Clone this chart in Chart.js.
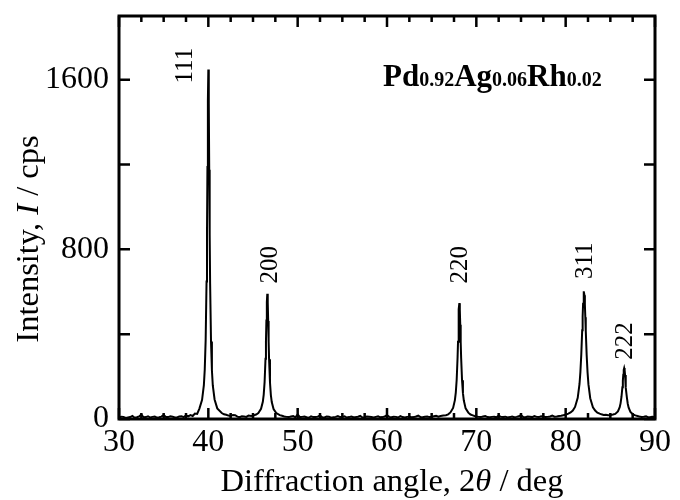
<!DOCTYPE html>
<html><head><meta charset="utf-8">
<script src="https://cdn.jsdelivr.net/npm/chart.js@4.4.0/dist/chart.umd.min.js"></script>
<style>html,body{margin:0;padding:0;background:#fff}#wrap{width:680px;height:500px}</style>
</head><body><div id="wrap"><canvas id="c" width="680" height="500"></canvas></div>
<script>
// ---- tick values ----
const xTickValues = [30, 40, 50, 60, 70, 80, 90];
const xMinorTickValues = [32.5, 35, 37.5, 42.5, 45, 47.5, 52.5, 55, 57.5, 62.5, 65, 67.5, 72.5, 75, 77.5, 82.5, 85, 87.5];
const yTickValues = [0, 800, 1600];
const yUnlabeledTickValues = [400, 1200];

// ---- scan data: [2theta (deg), intensity (cps)] ----
const scanLow = [[30,6],[30.25,11],[30.5,10],[30.75,5],[31,7],[31.25,9],[31.5,14],[31.75,6],[32,8],[32.25,12],[32.5,21],[32.75,8],[33,9],[33.25,13],[33.5,7],[33.75,10],[34,12],[34.25,6],[34.5,8],[34.75,11],[35,19],[35.25,9],[35.5,9],[35.75,13],[36,11],[36.25,7],[36.5,7],[36.75,12],[37,13],[37.25,9],[37.5,17],[37.75,12],[38,18],[38.25,14],[38.5,26],[38.75,24]];
const peak111 = [[39,49],[39.3,90],[39.5,160],[39.6,234],[39.7,371],[39.8,648],[39.85,881],[39.9,1188],[39.95,1502],[40,1648],[40.05,1490],[40.1,1175],[40.15,870],[40.2,640],[40.3,365],[40.4,230],[40.5,158],[40.7,92],[41,50],[41.5,28]];
const scanMid1 = [[41.75,22],[42,20],[42.25,16],[42.5,14],[42.75,19],[43,18],[43.25,11],[43.5,9],[43.75,13],[44,12],[44.25,10],[44.5,16],[44.8,14],[45.1,17],[45.35,21],[45.6,28]];
const peak200 = [[45.9,48],[46.1,81],[46.2,115],[46.3,175],[46.4,284],[46.45,366],[46.5,464],[46.55,552],[46.6,590],[46.65,550],[46.7,462],[46.75,364],[46.8,282],[46.9,173],[47,113],[47.1,80],[47.3,47],[47.6,28],[48,18]];
const scanMid2 = [[48.25,15],[48.5,12],[48.75,10],[49,9],[49.25,12],[49.5,14],[49.75,8],[50,22],[50.25,9],[50.5,10],[50.75,12],[51,8],[51.25,6],[51.5,13],[51.75,9],[52,9],[52.25,11],[52.5,17],[52.75,8],[53,7],[53.25,12],[53.5,11],[53.75,6],[54,8],[54.25,10],[54.5,14],[54.75,9],[55,10],[55.25,13],[55.5,7],[55.75,9],[56,12],[56.25,8],[56.5,9],[56.75,11],[57,15],[57.25,7],[57.5,8],[57.75,12],[58,11],[58.25,9],[58.5,7],[58.75,10],[59,13],[59.25,8],[59.5,9],[59.75,12],[60,18],[60.25,10],[60.5,8],[60.75,11],[61,10],[61.25,7],[61.5,14],[61.75,9],[62,7],[62.25,10],[62.5,11],[62.75,8],[63,9],[63.25,12],[63.5,16],[63.75,9],[64,8],[64.25,11],[64.5,12],[64.75,9],[65,10],[65.25,13],[65.5,15],[65.75,11],[66,14],[66.3,16],[66.6,18],[66.85,22],[67.1,31]];
const peak220 = [[67.4,52],[67.6,89],[67.7,124],[67.8,185],[67.9,290],[67.95,364],[68,446],[68.05,517],[68.1,546],[68.15,515],[68.2,444],[68.25,362],[68.3,288],[68.4,183],[68.5,122],[68.6,87],[68.8,50],[69.1,30],[69.35,21],[69.6,17]];
const scanMid3 = [[69.8,14],[70,12],[70.25,10],[70.5,9],[70.75,12],[71,14],[71.25,9],[71.5,8],[71.75,10],[72,11],[72.25,8],[72.5,16],[72.75,10],[73,9],[73.25,11],[73.5,7],[73.75,9],[74,12],[74.25,8],[74.5,10],[74.75,13],[75,18],[75.25,9],[75.5,8],[75.75,12],[76,11],[76.25,9],[76.5,14],[76.75,10],[77,9],[77.25,13],[77.5,12],[77.75,9],[78,10],[78.25,12],[78.5,16],[78.75,11],[79,12],[79.25,14],[79.5,15],[79.75,18],[80.05,21],[80.3,25],[80.55,31],[80.8,40]];
const peak311 = [[81.05,57],[81.35,100],[81.55,165],[81.65,222],[81.75,305],[81.85,419],[81.9,483],[81.95,543],[82,586],[82.05,602],[82.1,584],[82.15,540],[82.2,480],[82.25,416],[82.35,302],[82.45,220],[82.55,163],[82.75,98],[83.05,55],[83.3,40],[83.55,30]];
const scanMid4 = [[83.8,25],[84,22],[84.25,19],[84.5,20],[84.75,18],[85.05,19],[85.3,21],[85.55,24]];
const peak222 = [[85.85,36],[86.05,56],[86.15,75],[86.25,105],[86.35,150],[86.4,180],[86.45,209],[86.5,232],[86.55,240],[86.6,230],[86.65,207],[86.7,178],[86.75,148],[86.85,102],[86.95,72],[87.05,53],[87.25,33],[87.55,21]];
const scanHigh = [[87.8,17],[88.05,14],[88.25,12],[88.5,10],[88.75,11],[89,13],[89.25,8],[89.5,9],[89.75,11],[90,8]];

// ---- peak labels (text, and data position of label centre) ----
const peakLabels = ['111', '200', '220', '311', '222'];
const labelAngles = [37.2, 46.7, 68.0, 82.0, 86.45];
const labelIntensities = [1666, 727, 727, 746, 368];

const scan = [].concat(scanLow, peak111, scanMid1, peak200, scanMid2, peak220, scanMid3, peak311, scanMid4, peak222, scanHigh)
  .map(p => ({x: p[0], y: p[1]}));

const SERIF = '"Liberation Serif", "Times New Roman", serif';

function drawRuns(ctx, runs, x, y, align) {
  let total = 0;
  runs.forEach(r => { ctx.font = r.f; r.w = ctx.measureText(r.t).width; total += r.w; });
  let cx = align === 'center' ? x - total / 2 : x;
  runs.forEach(r => { ctx.font = r.f; ctx.fillText(r.t, cx, y); cx += r.w; });
}

const overlay = {
  id: 'overlay',
  afterDraw(chart) {
    const {ctx, chartArea: a, scales: {x, y}} = chart;
    ctx.save();
    ctx.strokeStyle = '#000';
    ctx.fillStyle = '#000';
    // ticks
    ctx.lineWidth = 2.5;
    ctx.beginPath();
    const xt = (v, len) => {
      const px = x.getPixelForValue(v);
      ctx.moveTo(px, a.bottom); ctx.lineTo(px, a.bottom - len);
      ctx.moveTo(px, a.top); ctx.lineTo(px, a.top + len);
    };
    xTickValues.forEach(v => xt(v, 11));
    xMinorTickValues.forEach(v => xt(v, 6));
    yTickValues.concat(yUnlabeledTickValues).forEach(v => {
      const py = y.getPixelForValue(v);
      ctx.moveTo(a.left, py); ctx.lineTo(a.left + 11, py);
      ctx.moveTo(a.right, py); ctx.lineTo(a.right - 11, py);
    });
    ctx.stroke();
    // frame
    ctx.lineWidth = 3;
    ctx.strokeRect(a.left, a.top, a.right - a.left, a.bottom - a.top);

    // peak labels
    ctx.textAlign = 'center';
    ctx.textBaseline = 'alphabetic';
    const ls = 25;
    ctx.font = ls + 'px ' + SERIF;
    peakLabels.forEach((t, i) => {
      const px = x.getPixelForValue(labelAngles[i]);
      const py = y.getPixelForValue(labelIntensities[i]);
      ctx.save();
      ctx.translate(px, py);
      ctx.rotate(-Math.PI / 2);
      ctx.fillText(t, 0, 0.338 * ls);
      ctx.restore();
    });

    // composition label
    ctx.textAlign = 'left';
    const big = 'bold 31px ' + SERIF, small = 'bold 20px ' + SERIF;
    drawRuns(ctx, [
      {t: 'Pd', f: big}, {t: '0.92', f: small},
      {t: 'Ag', f: big}, {t: '0.06', f: small},
      {t: 'Rh', f: big}, {t: '0.02', f: small}
    ], 383, 86, 'left');

    // axis titles
    const tf = '32.5px ' + SERIF, ti = 'italic 32.5px ' + SERIF;
    drawRuns(ctx, [
      {t: 'Diffraction angle, 2', f: tf}, {t: 'θ', f: ti}, {t: ' / deg', f: tf}
    ], 392, 491, 'center');
    ctx.save();
    ctx.translate(38, 239);
    ctx.rotate(-Math.PI / 2);
    drawRuns(ctx, [
      {t: 'Intensity, ', f: tf}, {t: 'I', f: ti}, {t: ' / cps', f: tf}
    ], 0, 0, 'center');
    ctx.restore();
    ctx.restore();
  }
};

new Chart(document.getElementById('c'), {
  type: 'line',
  data: {
    datasets: [{
      data: scan,
      borderColor: '#000',
      borderWidth: 2,
      pointRadius: 0,
      tension: 0,
      fill: false
    }]
  },
  options: {
    responsive: false,
    animation: false,
    devicePixelRatio: 1,
    layout: {padding: {top: 16, right: 25, left: 0, bottom: 0}},
    plugins: {legend: {display: false}, tooltip: {enabled: false}},
    scales: {
      x: {
        type: 'linear', position: 'bottom', min: 30, max: 90,
        afterBuildTicks: s => { s.ticks = xTickValues.map(v => ({value: v})); },
        afterFit: s => { s.height = 81; s.paddingLeft = 0; s.paddingRight = 0; },
        grid: {display: false, drawTicks: false},
        border: {display: false},
        ticks: {color: '#000', font: {family: SERIF, size: 32}, padding: 4, maxRotation: 0, autoSkip: false,
                callback: v => String(v)}
      },
      y: {
        type: 'linear', position: 'left', min: 0, max: 1900,
        afterBuildTicks: s => { s.ticks = yTickValues.map(v => ({value: v})); },
        afterFit: s => { s.width = 119; s.paddingTop = 0; s.paddingBottom = 0; },
        grid: {display: false, drawTicks: false},
        border: {display: false},
        ticks: {color: '#000', font: {family: SERIF, size: 32}, padding: 10,
                callback: v => String(v)}
      }
    }
  },
  plugins: [overlay]
});
</script>
</body></html>
